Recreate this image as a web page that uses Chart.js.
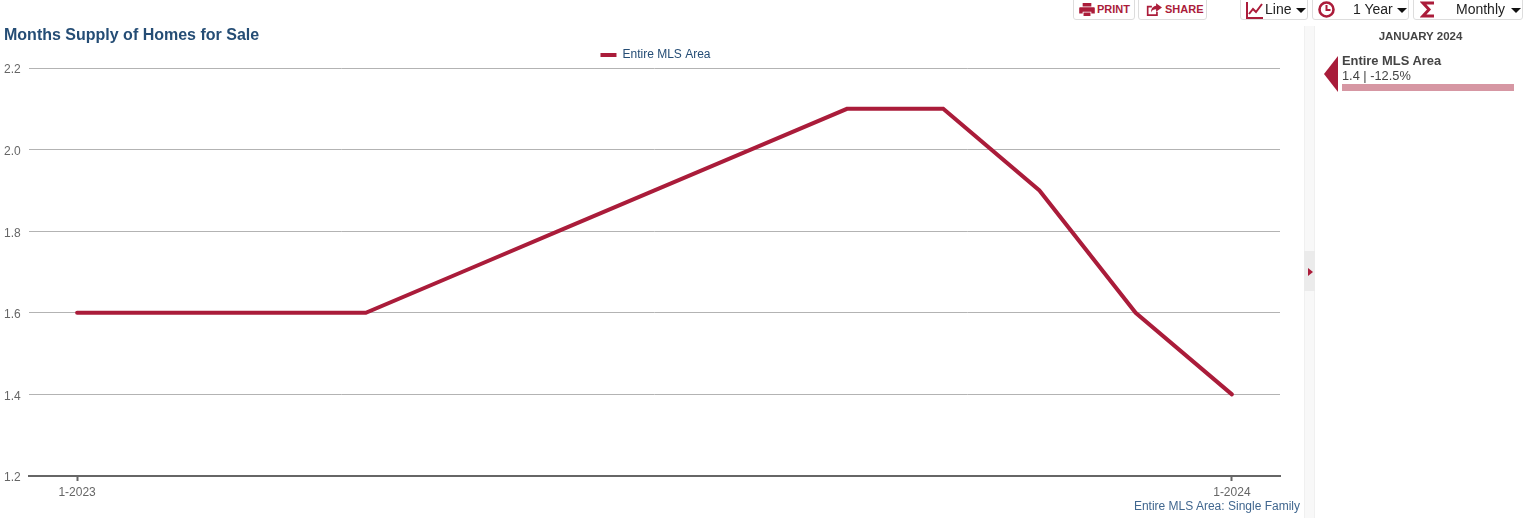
<!DOCTYPE html>
<html>
<head>
<meta charset="utf-8">
<title>Months Supply of Homes for Sale</title>
<script src="https://cdn.jsdelivr.net/npm/chart.js@4"></script>
<style>
  html, body { margin: 0; padding: 0; background: #fff; overflow: hidden; }
  body { width: 1530px; height: 518px; position: relative; font-family: "Liberation Sans", Arial, sans-serif; }
  #myChart { position: absolute; left: 0; top: 0; }
  .btn { position: absolute; box-sizing: border-box; top: -3px; height: 23px; background: #fff; border: 1px solid #ddd; border-radius: 3px; }
  .btn span { position: absolute; top: 3px; white-space: nowrap; }
  .btn svg { position: absolute; }
  .red { color: #ab1c3a; font-weight: bold; font-size: 11px; top: 5px !important; }
  .drop { color: #222; font-size: 14px; }
  .caret { position: absolute; top: 10px; width: 0; height: 0; border-left: 5px solid transparent; border-right: 5px solid transparent; border-top: 5px solid #111; }
  #stripe { position: absolute; left: 1304px; top: 26px; width: 11px; height: 492px; background: #f8f8f8; border-left: 1px solid #f0f0f0; border-right: 1px solid #f0f0f0; box-sizing: border-box; }
  #handle { position: absolute; left: 1304px; top: 251px; width: 11px; height: 40px; background: #ebebeb; }
  #handle i { position: absolute; left: 4px; top: 17px; width: 0; height: 0; border-top: 4px solid transparent; border-bottom: 4px solid transparent; border-left: 5px solid #ab1c3a; }
  #month { position: absolute; left: 1316px; width: 209px; top: 30px; text-align: center; font-size: 11.5px; font-weight: bold; color: #444; }
  #arrow { position: absolute; left: 1324px; top: 56px; width: 14px; height: 36px; }
  #sName { position: absolute; left: 1342px; top: 53px; font-size: 12.9px; font-weight: bold; color: #444; }
  #sVal { position: absolute; left: 1342px; top: 68px; font-size: 12.8px; color: #444; }
  #sBar { position: absolute; left: 1342px; top: 84px; width: 172px; height: 7px; background: #d697a3; }
  #foot { position: absolute; right: 230px; top: 499px; font-size: 12px; color: #41678f; }
</style>
</head>
<body>
<canvas id="myChart" width="1300" height="518"></canvas>

<div class="btn" style="left:1073px;width:62px">
  <svg style="left:5px;top:5px" width="16" height="13" viewBox="0 0 18 15"><path fill="#ab1c3a" d="M4 0h10v4H4zM1 5h16a1 1 0 0 1 1 1v6h-4v-2H4v2H0V6a1 1 0 0 1 1-1zM5 11h8v4H5z"/></svg>
  <span class="red" style="left:23px">PRINT</span>
</div>
<div class="btn" style="left:1138px;width:69px">
  <svg style="left:7px;top:5px" width="16" height="14" viewBox="0 0 19 16"><path fill="none" stroke="#ab1c3a" stroke-width="2" d="M7 4H2v10h11v-4"/><path fill="#ab1c3a" d="M12 0l7 5-7 5V7C9 7 7 8 6 11c0-5 2-7 6-8z"/></svg>
  <span class="red" style="left:26px">SHARE</span>
</div>
<div class="btn" style="left:1240px;width:68px">
  <svg style="left:5px;top:4px" width="17" height="17" viewBox="0 0 17 17"><path fill="none" stroke="#ab1c3a" stroke-width="2" d="M1 0v16h16M3 12l4-5 3 3 6-8"/></svg>
  <span class="drop" style="left:24px">Line</span><i class="caret" style="left:55px"></i>
</div>
<div class="btn" style="left:1312px;width:97px">
  <svg style="left:5px;top:3px" width="17" height="17" viewBox="0 0 17 17"><circle cx="8.5" cy="8.5" r="7" fill="none" stroke="#ab1c3a" stroke-width="2.6"/><path fill="none" stroke="#ab1c3a" stroke-width="2" d="M8.5 4v5h4"/></svg>
  <span class="drop" style="left:40px">1 Year</span><i class="caret" style="left:84px"></i>
</div>
<div class="btn" style="left:1413px;width:110px">
  <svg style="left:6px;top:3px" width="15" height="17" viewBox="0 0 15 17"><path fill="none" stroke="#ab1c3a" stroke-width="3" d="M14 2H3l6 6.5L3 15h11"/></svg>
  <span class="drop" style="left:42px">Monthly</span><i class="caret" style="left:97px"></i>
</div>

<div id="stripe"></div>
<div id="handle"><i></i></div>
<div id="month">JANUARY 2024</div>
<svg id="arrow" viewBox="0 0 14 36"><path fill="#a81c3a" d="M14 0V36L0 18z"/></svg>
<div id="sName">Entire MLS Area</div>
<div id="sVal">1.4 | -12.5%</div>
<div id="sBar"></div>
<div id="foot">Entire MLS Area: Single Family</div>

<script>
    const ctx = document.getElementById('myChart');
    var months = ['1-2023', '2-2023', '3-2023', '4-2023', '5-2023', '6-2023', '7-2023',
                  '8-2023', '9-2023', '10-2023', '11-2023', '12-2023', '1-2024'];
    var supply = [1.6, 1.6, 1.6, 1.6, 1.7, 1.8, 1.9, 2.0, 2.1, 2.1, 1.9, 1.6, 1.4];
    var shownMonths = ['1-2023', '1-2024'];
    var yTicks = [1.2, 1.4, 1.6, 1.8, 2.0, 2.2];
    var seriesName = 'Entire MLS Area';
    var chartTitle = 'Months Supply of Homes for Sale';

    var lineRed = '#aa1c3a';
    var font = 'Liberation Sans';

    // legend box always reserves 10px extra, trim it and nudge it over
    var legendTweak = {
        id: 'legendTweak',
        beforeLayout: function (chart) {
            var l = chart.legend;
            if (l.tweaked) return;
            var fit = l.fit;
            l.fit = function () { fit.call(this); this.height -= 3; };
            l.tweaked = true;
        },
        afterLayout: function (chart) {
            chart.legend.left += 1;
            chart.legend.right += 1;
        }
    };

    new Chart(ctx, {
        type: 'line',
        plugins: [legendTweak],
        data: {
            labels: months,
            datasets: [{
                label: seriesName,
                data: supply,
                borderColor: lineRed,
                backgroundColor: lineRed,
                borderWidth: 4,
                borderCapStyle: 'round',
                borderJoinStyle: 'miter',
                pointRadius: 0,
                pointStyle: 'line',
                tension: 0
            }]
        },
        options: {
            responsive: false,
            animation: false,
            layout: { padding: { left: 4, right: 20, top: 0, bottom: 0 } },
            plugins: {
                title: {
                    display: true,
                    text: chartTitle,
                    align: 'start',
                    color: '#254d75',
                    font: { family: font, size: 16, weight: 'bold', lineHeight: 1 },
                    padding: { top: 28, bottom: 0 }
                },
                legend: {
                    display: true,
                    position: 'top',
                    fullSize: false,
                    labels: {
                        usePointStyle: true,
                        pointStyle: 'line',
                        pointStyleWidth: 16,
                        boxHeight: 12,
                        color: '#254d75',
                        font: { family: font, size: 12 },
                        padding: 5
                    }
                },
                tooltip: { enabled: false }
            },
            scales: {
                x: {
                    offset: true,
                    afterFit: function (scale) { scale.height = 42; },
                    border: { color: '#666666', width: 2 },
                    grid: {
                        drawOnChartArea: false,
                        drawTicks: true,
                        tickLength: 5,
                        tickWidth: 2,
                        tickColor: function (c) {
                            return shownMonths.indexOf(months[c.index]) >= 0 ? '#666666' : 'rgba(0,0,0,0)';
                        }
                    },
                    ticks: {
                        autoSkip: false,
                        maxRotation: 0,
                        padding: 4,
                        color: '#666666',
                        font: { family: font, size: 12 },
                        callback: function (v, i) {
                            return shownMonths.indexOf(months[i]) >= 0 ? months[i] : '';
                        }
                    }
                },
                y: {
                    min: 1.2,
                    max: 2.2,
                    afterFit: function (scale) { scale.width = 25; },
                    afterBuildTicks: function (scale) {
                        scale.ticks = yTicks.map(function (v) { return { value: v }; });
                    },
                    border: { display: false },
                    grid: { color: '#b3b3b3', lineWidth: 1, drawTicks: false },
                    ticks: {
                        crossAlign: 'far',
                        padding: 0,
                        labelOffset: 2,
                        color: '#666666',
                        font: { family: font, size: 12 },
                        callback: function (v) { return v.toFixed(1); }
                    }
                }
            }
        }
    });
</script>
</body>
</html>
